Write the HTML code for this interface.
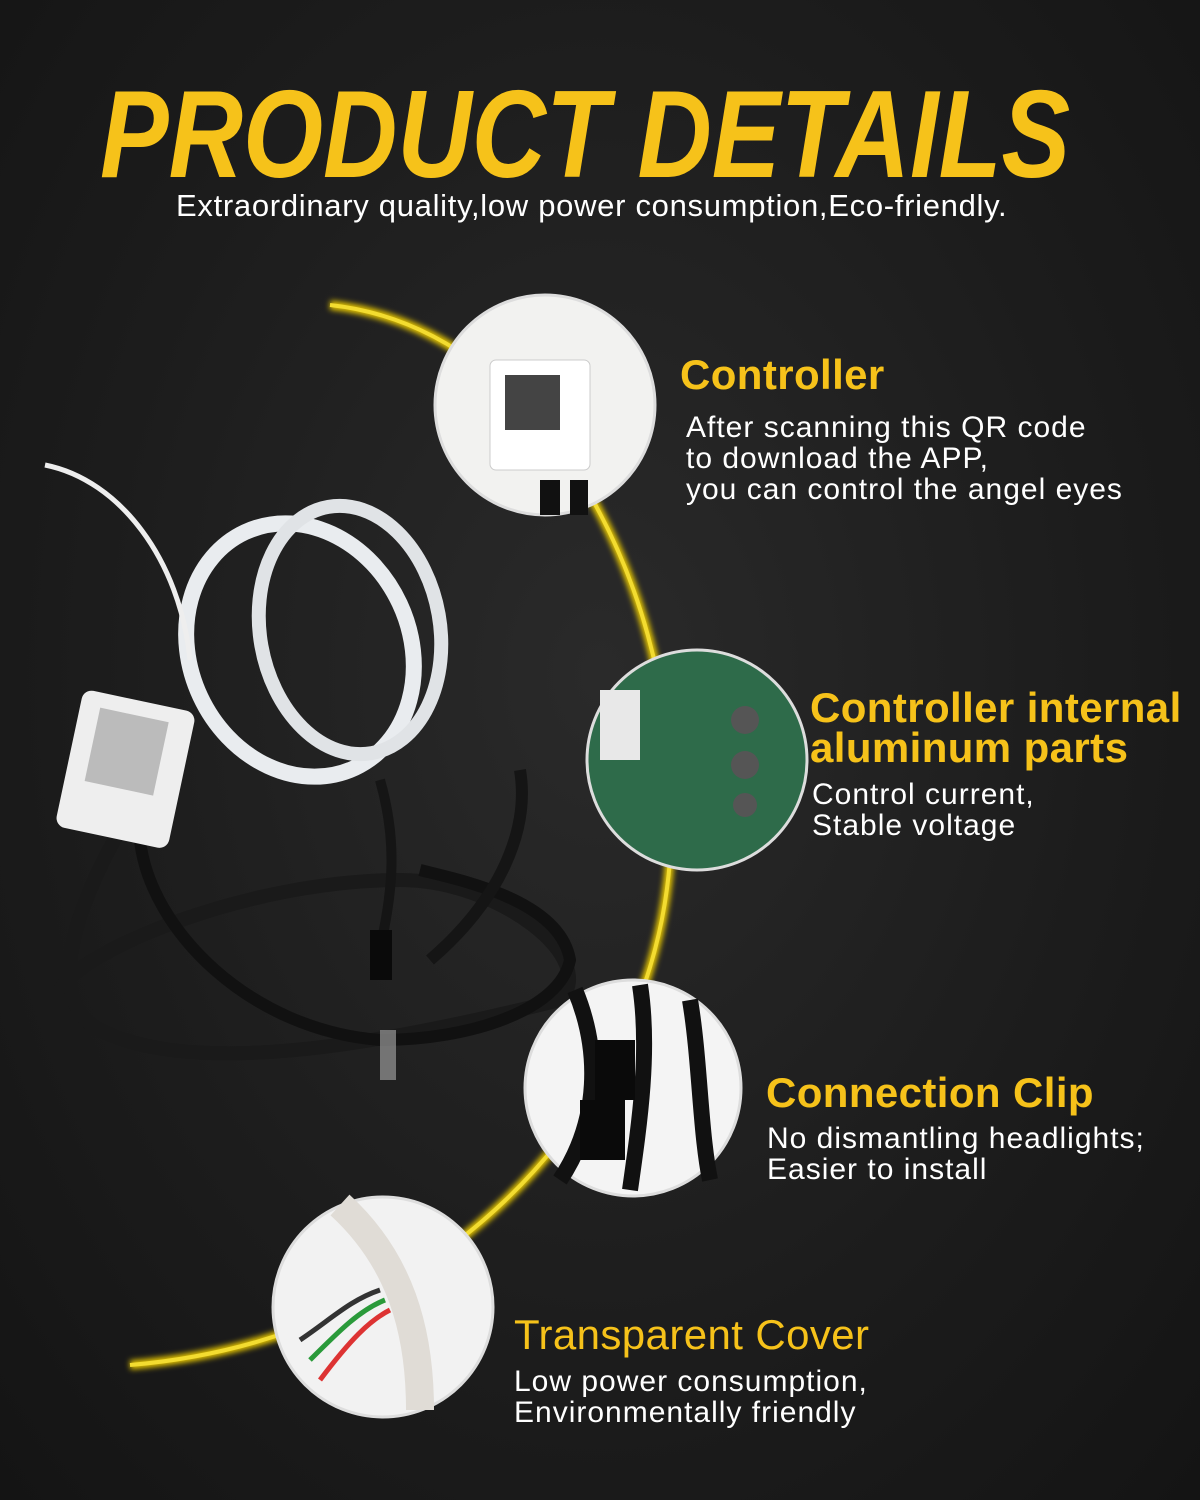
<!DOCTYPE html>
<html><head><meta charset="utf-8"><style>
html,body{margin:0;padding:0}
body{width:1200px;height:1500px;background:radial-gradient(ellipse at 50% 45%,#2a2a2a 0%,#1c1c1c 60%,#141414 100%);position:relative;overflow:hidden;font-family:"Liberation Sans",sans-serif;color:#fff}
.t{position:absolute;white-space:nowrap}
h1{position:absolute;left:100px;top:60px;margin:0;font-size:124px;line-height:150px;white-space:nowrap;font-weight:bold;font-style:italic;color:#f6c21a;transform:scaleX(0.83);transform-origin:left}
.y{color:#f6c21a;font-weight:bold;font-size:42px;line-height:40px;letter-spacing:0.4px}
.d{font-size:30px;line-height:31px;letter-spacing:1px}
</style></head><body>
<h1>PRODUCT DETAILS</h1>
<div class="t" style="left:176px;top:188px;font-size:31px;letter-spacing:0.7px">Extraordinary quality,low power consumption,Eco-friendly.</div>
<svg width="1200" height="1500" style="position:absolute;left:0;top:0">
<defs><filter id="g"><feGaussianBlur stdDeviation="3"/></filter></defs>
<path d="M330 305 C 560 330 690 620 670 860 C 650 1120 430 1340 130 1365" fill="none" stroke="#e8c800" stroke-width="9" filter="url(#g)"/>
<path d="M330 305 C 560 330 690 620 670 860 C 650 1120 430 1340 130 1365" fill="none" stroke="#f3dc30" stroke-width="4"/>
<g fill="none">
<ellipse cx="300" cy="650" rx="110" ry="130" stroke="#e9ecef" stroke-width="16" transform="rotate(-25 300 650)"/>
<ellipse cx="350" cy="630" rx="90" ry="125" stroke="#e0e3e6" stroke-width="14" transform="rotate(-10 350 630)"/>
<path d="M45 465 C 120 480 180 560 190 660" stroke="#eee" stroke-width="5"/>
<path d="M120 830 C 80 900 40 1000 100 1030 C 200 1080 400 1040 560 1000 C 600 960 500 880 400 880 C 250 880 80 950 60 990" stroke="#1a1a1a" stroke-width="14"/>
<path d="M140 840 C 150 930 250 1030 380 1040 C 470 1040 560 1010 570 960 C 560 900 460 880 420 870" stroke="#111" stroke-width="12"/>
<path d="M520 770 C 530 830 500 900 430 960" stroke="#151515" stroke-width="12"/>
<path d="M380 780 C 400 850 390 900 380 950" stroke="#151515" stroke-width="10"/>
</g>
<rect x="380" y="1030" width="16" height="50" fill="#999" opacity="0.7"/>
<rect x="370" y="930" width="22" height="50" fill="#0a0a0a"/>
<g transform="rotate(12 130 760)"><rect x="70" y="700" width="115" height="140" rx="10" fill="#eeeeee"/><rect x="90" y="715" width="70" height="75" fill="#bbb"/></g>
<circle cx="545" cy="405" r="110" fill="#f2f2f0" stroke="#ddd" stroke-width="3"/>
<rect x="490" y="360" width="100" height="110" rx="6" fill="#fff" stroke="#ccc"/>
<rect x="505" y="375" width="55" height="55" fill="#444"/>
<rect x="540" y="480" width="20" height="35" fill="#111"/><rect x="570" y="480" width="18" height="35" fill="#111"/>
<circle cx="697" cy="760" r="110" fill="#2e6b4a" stroke="#ddd" stroke-width="3"/>
<rect x="600" y="690" width="40" height="70" fill="#e8e8e8"/>
<circle cx="745" cy="720" r="14" fill="#555"/><circle cx="745" cy="765" r="14" fill="#555"/><circle cx="745" cy="805" r="12" fill="#555"/>
<circle cx="633" cy="1088" r="108" fill="#f4f4f4" stroke="#ddd" stroke-width="3"/>
<path d="M575 990 C 600 1050 600 1120 560 1180 M640 985 C 650 1050 640 1120 630 1190 M690 1000 C 700 1060 700 1130 710 1180" stroke="#111" stroke-width="16" fill="none"/>
<rect x="595" y="1040" width="40" height="60" fill="#0a0a0a"/><rect x="580" y="1100" width="45" height="60" fill="#0a0a0a"/>
<circle cx="383" cy="1307" r="110" fill="#f2f2f2" stroke="#ddd" stroke-width="3"/>
<path d="M340 1205 C 400 1260 420 1330 420 1410" stroke="#e0dcd6" stroke-width="28" fill="none"/>
<path d="M300 1340 C 330 1320 350 1300 380 1290" stroke="#333" stroke-width="5" fill="none"/>
<path d="M310 1360 C 340 1330 360 1310 385 1300" stroke="#2a9a3a" stroke-width="5" fill="none"/>
<path d="M320 1380 C 350 1340 370 1320 390 1310" stroke="#d33" stroke-width="5" fill="none"/>
</svg>
<div class="t y" style="left:680px;top:355px">Controller</div>
<div class="t d" style="left:686px;top:412px">After scanning this QR code<br>to download the APP,<br>you can control the angel eyes</div>
<div class="t y" style="left:810px;top:688px">Controller internal<br>aluminum parts</div>
<div class="t d" style="left:812px;top:779px">Control current,<br>Stable voltage</div>
<div class="t y" style="left:766px;top:1073px">Connection Clip</div>
<div class="t d" style="left:767px;top:1123px">No dismantling headlights;<br>Easier to install</div>
<div class="t y" style="left:514px;top:1315px;font-weight:normal">Transparent Cover</div>
<div class="t d" style="left:514px;top:1366px">Low power consumption,<br>Environmentally friendly</div>
</body></html>
